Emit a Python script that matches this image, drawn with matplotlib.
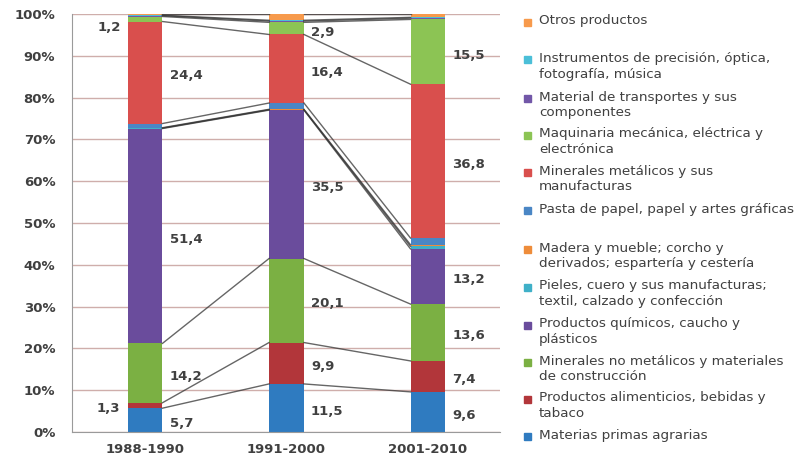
import matplotlib
matplotlib.use("Agg")
import matplotlib.pyplot as plt
import numpy as np

# Export structure by product group (% of total), three periods
periods = ["1988-1990", "1991-2000", "2001-2010"]

materias_primas = [5.7, 11.5, 9.6]
alimenticios = [1.3, 9.9, 7.4]
minerales_no_met = [14.2, 20.1, 13.6]
quimicos = [51.4, 35.5, 13.2]
pieles = [0.1, 0.1, 0.6]
madera = [0.1, 0.1, 0.4]
pasta_papel = [1.0, 1.5, 1.6]
minerales_met = [24.4, 16.4, 36.8]
maquinaria = [1.2, 2.9, 15.5]
transportes = [0.2, 0.3, 0.3]
instrumentos = [0.1, 0.2, 0.2]
otros = [0.3, 1.5, 0.8]

# stacking order, bottom to top
series = [materias_primas, alimenticios, minerales_no_met, quimicos, pieles,
          madera, pasta_papel, minerales_met, maquinaria, transportes,
          instrumentos, otros]
names = [
    "Materias primas agrarias",
    "Productos alimenticios, bebidas y\ntabaco",
    "Minerales no metálicos y materiales\nde construcción",
    "Productos químicos, caucho y\nplásticos",
    "Pieles, cuero y sus manufacturas;\ntextil, calzado y confección",
    "Madera y mueble; corcho y\nderivados; espartería y cestería",
    "Pasta de papel, papel y artes gráficas",
    "Minerales metálicos y sus\nmanufacturas",
    "Maquinaria mecánica, eléctrica y\nelectrónica",
    "Material de transportes y sus\ncomponentes",
    "Instrumentos de precisión, óptica,\nfotografía, música",
    "Otros productos",
]
colors = ["#2f7bc0", "#b2363a", "#7bb043", "#6a4c9c", "#3fb0c8", "#ee8c3a",
          "#4a86c5", "#d94f4d", "#8cc454", "#7257a8", "#4bbfd8", "#f79a4c"]

# segments that carry a value label
labelled = [0, 1, 2, 3, 7, 8]
left_labels = {(1, 0), (8, 0)}   # (series, period) drawn to the left of the bar

fig = plt.figure(figsize=(8.04, 4.66), dpi=100)
ax = fig.add_axes([72 / 804, 34 / 466, 428 / 804, 418 / 466])

x = np.arange(len(periods))
w = 0.247
data = np.array(series)
bottoms = np.vstack([np.zeros(len(periods)), np.cumsum(data, axis=0)[:-1]])
tops = np.cumsum(data, axis=0)

for k in range(len(series)):
    ax.bar(x, data[k], w, bottom=bottoms[k], color=colors[k], zorder=2,
           linewidth=0)

# series lines between neighbouring bars
for k in range(len(series)):
    for i in range(len(periods) - 1):
        ax.plot([x[i] + w / 2, x[i + 1] - w / 2], [tops[k, i], tops[k, i + 1]],
                color="#333333", lw=1.0, alpha=0.75, zorder=3)

txt_kw = dict(fontsize=9.5, fontweight="bold", color="#404040", va="center",
              family="DejaVu Sans")
for k in labelled:
    for i in range(len(periods)):
        val = data[k, i]
        yc = bottoms[k, i] + val / 2 - 0.8
        s = f"{val:.1f}".replace(".", ",")
        if (k, i) in left_labels:
            if k == 8:
                yc = bottoms[k, i] - 1.5
            ax.text(x[i] - w / 2 - 0.05, yc, s, ha="right", **txt_kw)
        else:
            if k == 8 and i == 1:
                yc = bottoms[k, i] + 0.5
            ax.text(x[i] + w / 2 + 0.05, yc, s, ha="left", **txt_kw)

ax.set_xlim(-0.516, 2.509)
ax.set_ylim(0, 100)
ax.set_yticks(np.arange(0, 101, 10))
ax.set_yticklabels([f"{v}%" for v in range(0, 101, 10)])
ax.set_xticks(x)
ax.set_xticklabels(periods)
ax.yaxis.grid(True, color="#cfaeab", lw=1.0, zorder=0)
ax.set_axisbelow(True)
for s in ["top", "right"]:
    ax.spines[s].set_visible(False)
for s in ["left", "bottom"]:
    ax.spines[s].set_color("#9a9a9a")
ax.tick_params(axis="y", length=0, labelsize=9.5, colors="#404040", pad=12)
ax.tick_params(axis="x", length=0, labelsize=9.5, colors="#404040", pad=8)
for lab in ax.get_xticklabels() + ax.get_yticklabels():
    lab.set_fontweight("bold")
    lab.set_family("DejaVu Sans")

# legend drawn as a column of patches and labels (reverse stacking order)
leg_y = [436, 399, 362, 325, 287, 249, 210, 172, 135, 98, 60, 22]
for k in range(len(series)):
    yy = 1 - leg_y[k] / 466
    fig.patches.append(plt.Rectangle((524 / 804, yy - 3.5 / 466), 7 / 804, 7 / 466,
                                     transform=fig.transFigure, color=colors[k]))
    fig.text(539 / 804, yy + 7.5 / 466, names[k], fontsize=9.7, color="#404040",
             va="top", ha="left", linespacing=1.25, family="DejaVu Sans")

fig.savefig("out.png", dpi=100)
